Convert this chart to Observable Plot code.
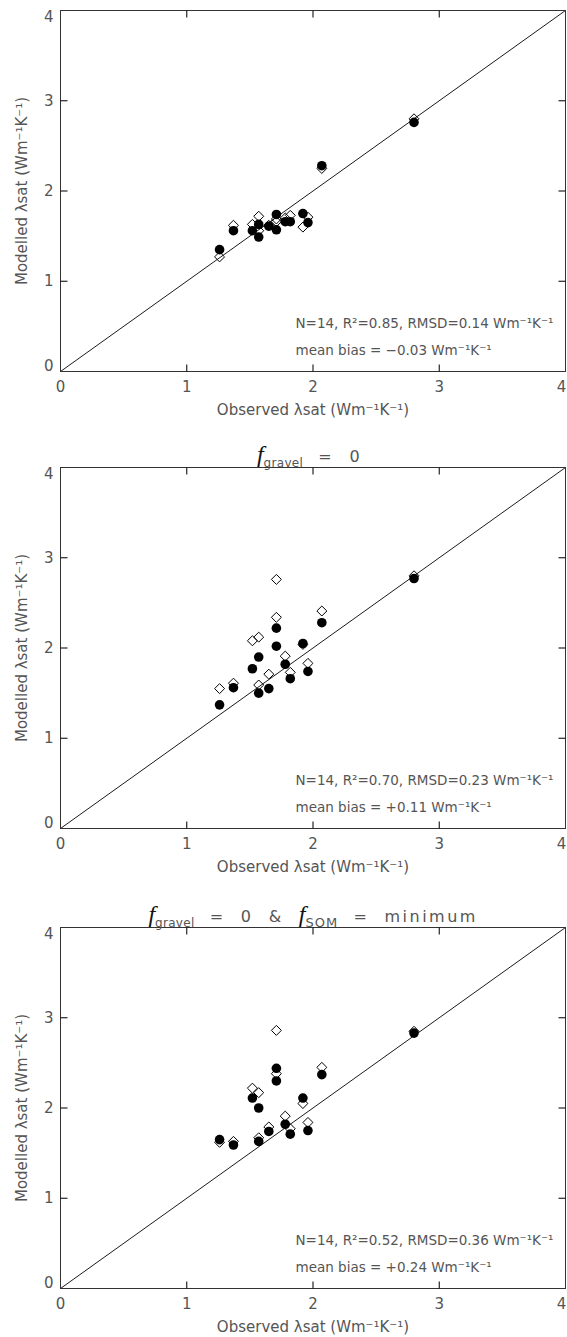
<!DOCTYPE html>
<html>
<head>
<meta charset="utf-8">
<script src="https://cdn.jsdelivr.net/npm/d3@7"></script>
<script src="https://cdn.jsdelivr.net/npm/@observablehq/plot@0.6"></script>
<style>
  body { margin: 0; background: #fff; }
  #chart svg { display: block; }
  #chart text { fill: #555; }
</style>
</head>
<body>
<div id="chart"></div>
<script>
// ---- data ----
const observed = [1.26, 1.37, 1.52, 1.57, 1.57, 1.65, 1.71, 1.71, 1.78, 1.82, 1.92, 1.96, 2.07, 2.80];

// panel 1 (default)
const p1Circles  = [1.35, 1.56, 1.56, 1.63, 1.49, 1.61, 1.74, 1.57, 1.66, 1.66, 1.75, 1.65, 2.28, 2.76];
const p1Diamonds = [1.27, 1.62, 1.63, 1.72, 1.56, 1.62, 1.69, 1.66, 1.70, 1.73, 1.60, 1.71, 2.25, 2.80];
// panel 2 (f_gravel = 0)
const p2Circles  = [1.37, 1.56, 1.77, 1.90, 1.50, 1.55, 2.22, 2.02, 1.82, 1.66, 2.05, 1.74, 2.28, 2.77];
const p2Diamonds = [1.55, 1.61, 2.08, 2.12, 1.59, 1.71, 2.76, 2.34, 1.91, 1.73, 2.04, 1.83, 2.41, 2.80];
// panel 3 (f_gravel = 0 & f_SOM = minimum)
const p3Circles  = [1.65, 1.59, 2.11, 2.00, 1.63, 1.74, 2.44, 2.30, 1.82, 1.71, 2.11, 1.75, 2.37, 2.83];
const p3Diamonds = [1.62, 1.63, 2.22, 2.17, 1.67, 1.79, 2.86, 2.38, 1.91, 1.77, 2.05, 1.84, 2.45, 2.85];

const axisDomain = [0, 4];
const tickLabels = [0, 1, 2, 3, 4];
const innerTicks = [1, 2, 3];

const xTitle = "Observed λsat (Wm⁻¹K⁻¹)";
const yTitle = "Modelled λsat (Wm⁻¹K⁻¹)";

const p1Stats = ["N=14, R²=0.85, RMSD=0.14 Wm⁻¹K⁻¹", "mean bias = −0.03 Wm⁻¹K⁻¹"];
const p2Stats = ["N=14, R²=0.70, RMSD=0.23 Wm⁻¹K⁻¹", "mean bias = +0.11 Wm⁻¹K⁻¹"];
const p3Stats = ["N=14, R²=0.52, RMSD=0.36 Wm⁻¹K⁻¹", "mean bias = +0.24 Wm⁻¹K⁻¹"];

const NB = "\u00A0";
const p2Title = [["f", "f"], ["gravel", "sub"], [`${NB}${NB}=${NB}${NB}0`, "main"]];
const p3Title = [["f", "f"], ["gravel", "sub"], [`${NB}${NB}=${NB}${NB}0${NB}${NB}&${NB}${NB}`, "main"],
                 ["f", "f"], ["SOM", "sub"], [`${NB}${NB}=${NB}${NB}minimum`, "main"]];
// where each title starts, in units of the x axis
const p2TitleStart = 1.56;
const p3TitleStart = 0.70;

// ---- drawing ----
const W = 567, ML = 60, MR = 2, TICK = 7;
function panel({circles, diamonds, stats, height, marginTop, marginBottom}) {
  const pts = observed.map((o, i) => ({obs: o, circle: circles[i], diamond: diamonds[i]}));
  const fh = height - marginTop - marginBottom;   // frame height in px
  const fw = W - ML - MR;                          // frame width in px
  const [lo, hi] = axisDomain;
  const ty = TICK / fh * (hi - lo);                // tick length in y units
  const tx = TICK / fw * (hi - lo);                // tick length in x units
  const yLabelDy = v => (v === 0 ? -5 : v === 4 ? 7 : 0);
  const xLabelDx = v => (v === 4 ? -4 : 0);
  const tickStyle = {stroke: "#111", strokeWidth: 1.1};
  return Plot.plot({
    width: W,
    height,
    marginTop,
    marginBottom,
    marginLeft: ML,
    marginRight: MR,
    x: {domain: axisDomain},
    y: {domain: axisDomain},
    style: {fontFamily: "'DejaVu Sans', sans-serif", fontSize: "15px", color: "#222", background: "#fff"},
    marks: [
      Plot.line(axisDomain, {x: d => d, y: d => d, stroke: "#000", strokeWidth: 0.9}),
      Plot.dot(pts, {x: "obs", y: "diamond", symbol: "diamond2", r: 4.5, stroke: "#000", strokeWidth: 1, fill: "none"}),
      Plot.dot(pts, {x: "obs", y: "circle", r: 4.8, fill: "#000", stroke: "none"}),
      Plot.frame({stroke: "#333", strokeWidth: 1}),
      // inward ticks on all four sides
      Plot.link(innerTicks, {x1: d => d, x2: d => d, y1: lo, y2: lo + ty, ...tickStyle}),
      Plot.link(innerTicks, {x1: d => d, x2: d => d, y1: hi, y2: hi - ty, ...tickStyle}),
      Plot.link(innerTicks, {y1: d => d, y2: d => d, x1: lo, x2: lo + tx, ...tickStyle}),
      Plot.link(innerTicks, {y1: d => d, y2: d => d, x1: hi, x2: hi - tx, ...tickStyle}),
      // tick labels
      ...tickLabels.map(v =>
        Plot.axisX({anchor: "bottom", ticks: [v], tickSize: 0, tickPadding: 10, fontSize: 15, dx: xLabelDx(v), tickFormat: d => String(d), label: null})
      ),
      ...tickLabels.map(v =>
        Plot.axisY({anchor: "left", ticks: [v], tickSize: 0, tickPadding: 7, fontSize: 15, dy: yLabelDy(v), tickFormat: d => String(d), label: null})
      ),
      Plot.text([xTitle], {text: d => d, frameAnchor: "bottom", textAnchor: "middle", lineAnchor: "middle", dy: 39, fontSize: 15}),
      Plot.text([yTitle], {text: d => d, frameAnchor: "left", textAnchor: "middle", lineAnchor: "middle", dx: -38, rotate: -90, fontSize: 15}),
      Plot.text([stats[0]], {text: d => d, frameAnchor: "bottom-left", textAnchor: "start", lineAnchor: "middle", dx: 235, dy: -48, fontSize: 13.5}),
      Plot.text([stats[1]], {text: d => d, frameAnchor: "bottom-left", textAnchor: "start", lineAnchor: "middle", dx: 235, dy: -21, fontSize: 13.5})
    ]
  });
}

function addTitle(plot, title, start) {
  const sx = plot.scale("x");
  const sy = plot.scale("y");
  const y0 = sy.apply(4) - 5;
  const t = d3.select(plot).append("text")
    .attr("x", sx.apply(start)).attr("y", y0)
    .attr("text-anchor", "start");
  let shifted = false;
  for (const [s, kind] of title) {
    const ts = t.append("tspan").text(s);
    if (kind === "sub") {
      ts.attr("dy", 5).style("font-size", s === "SOM" ? "13px" : "12px")
        .style("letter-spacing", s === "SOM" ? "1px" : "0.3px");
      shifted = true;
      continue;
    }
    if (shifted) { ts.attr("dy", -5); shifted = false; }
    if (kind === "f") {
      ts.style("font-family", "'Liberation Serif', serif").style("font-style", "italic")
        .style("font-size", "24px").style("fill", "#111");
    } else {
      ts.style("font-size", "16px").style("letter-spacing", "2.5px");
    }
  }
}

const chart = document.getElementById("chart");
const plot1 = panel({circles: p1Circles, diamonds: p1Diamonds, stats: p1Stats, height: 440, marginTop: 10, marginBottom: 69});
const plot2 = panel({circles: p2Circles, diamonds: p2Diamonds, stats: p2Stats, height: 460, marginTop: 27, marginBottom: 72});
const plot3 = panel({circles: p3Circles, diamonds: p3Diamonds, stats: p3Stats, height: 437, marginTop: 27, marginBottom: 49});
chart.append(plot1, plot2, plot3);
addTitle(plot2, p2Title, p2TitleStart);
addTitle(plot3, p3Title, p3TitleStart);
</script>
</body>
</html>
